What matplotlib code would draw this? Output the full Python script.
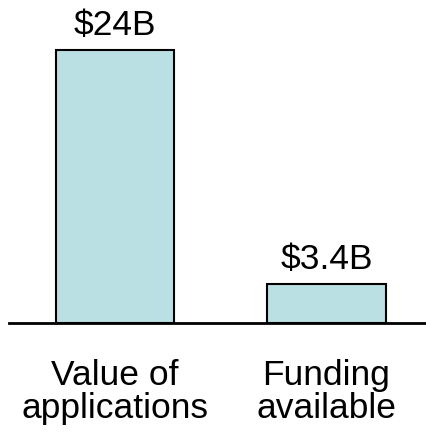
import matplotlib.pyplot as plt

plt.rcParams['font.family'] = ['Liberation Sans', 'DejaVu Sans']

categories = ['Value of\napplications', 'Funding\navailable']
values = [24, 3.4]
value_labels = ['$24B', '$3.4B']

fig = plt.figure(figsize=(4.27, 4.32), dpi=100)
ax = fig.add_axes([0.021, 0.2523, 0.979, 0.7477])

xs = range(len(categories))
bars = ax.bar(xs, values, width=0.56, color='#BBE0E3', edgecolor='black', linewidth=1.5)

for bar, lab in zip(bars, value_labels):
    ax.annotate(lab, (bar.get_x() + bar.get_width() / 2, bar.get_height()),
                xytext=(0, 11), textcoords='offset points',
                ha='center', va='baseline', fontsize=25.5)

ax.set_xlim(-0.5, 1.475)
ax.set_ylim(0, 28.4)
ax.set_xticks(list(xs))
ax.set_xticklabels(categories, fontsize=25.5, linespacing=1.0)
ax.tick_params(axis='x', length=0, pad=26)
ax.set_yticks([])
for side in ['top', 'right', 'left']:
    ax.spines[side].set_visible(False)
ax.spines['bottom'].set_linewidth(2)

fig.savefig('out.png', dpi=100)
